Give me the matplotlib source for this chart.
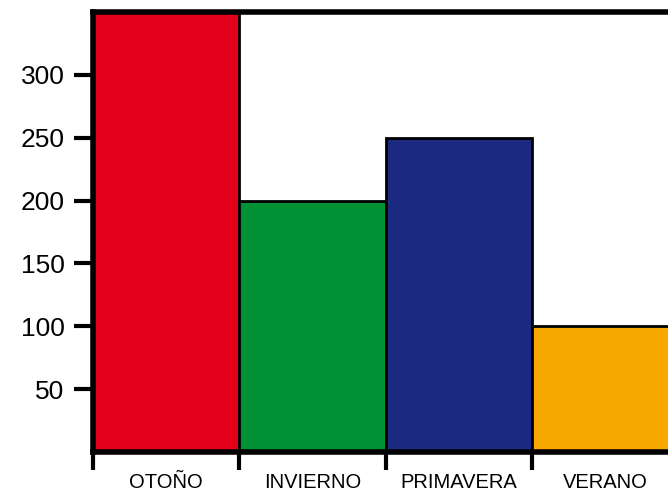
import matplotlib.pyplot as plt

plt.rcParams['font.family'] = ['Liberation Sans', 'DejaVu Sans']

estaciones = ["OTOÑO", "INVIERNO", "PRIMAVERA", "VERANO"]
valores = [350, 200, 250, 100]
colores = ["#E2001A", "#009036", "#1B2A80", "#F7A800"]
yticks = [50, 100, 150, 200, 250, 300]

fig = plt.figure(figsize=(6.68, 4.93), dpi=100)
ax = fig.add_axes([0.139, 0.083, 0.861, 0.893])

pos = list(range(len(estaciones)))
ax.bar(pos, valores, width=1, align='edge', color=colores,
       edgecolor='black', linewidth=2, zorder=2)

ax.set_xlim(0, 3.93)
ax.set_ylim(0, 350)

for s in ['left', 'top', 'bottom']:
    ax.spines[s].set_linewidth(4)
    ax.spines[s].set_zorder(3)
ax.spines['right'].set_visible(False)

ax.set_yticks(yticks)
ax.tick_params(axis='y', direction='inout', length=27, width=3,
               labelsize=19, pad=7)

ax.set_xticks(pos)
ax.set_xticklabels([])
ax.tick_params(axis='x', which='major', direction='out', length=13, width=3)
ax.set_xticks([p + 0.5 for p in pos], minor=True)
ax.set_xticklabels(estaciones, minor=True)
ax.tick_params(axis='x', which='minor', length=0, labelsize=14.5, pad=15)

fig.savefig("out.png", dpi=100)
